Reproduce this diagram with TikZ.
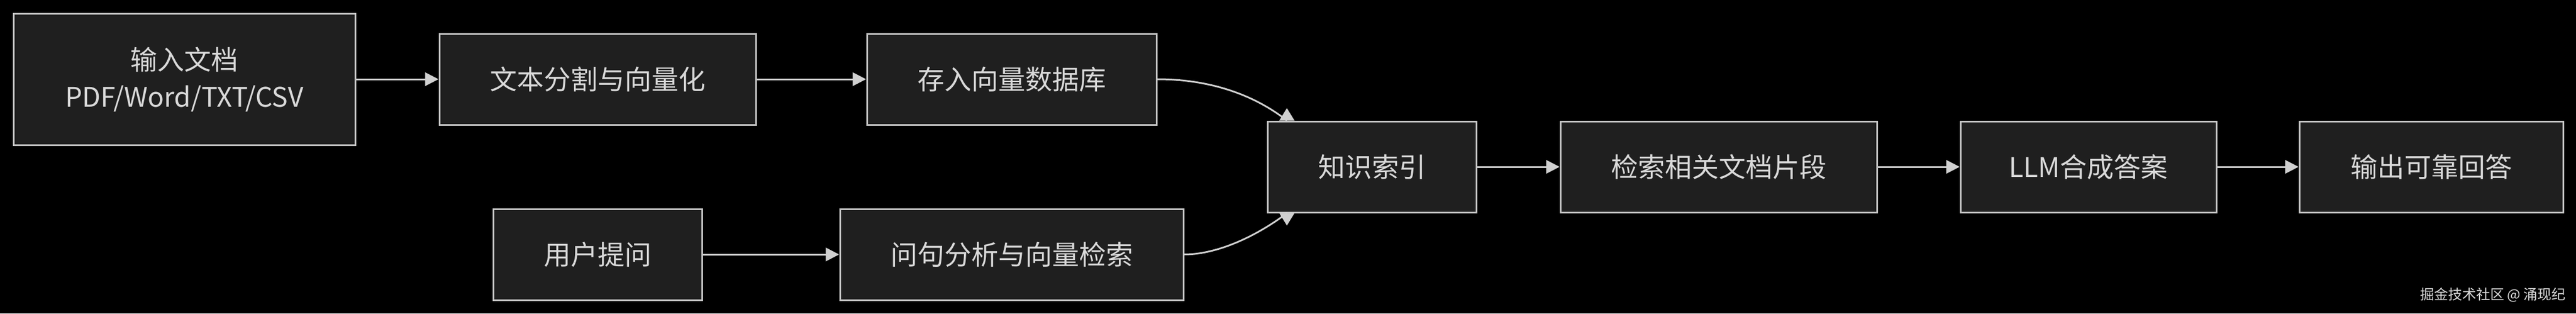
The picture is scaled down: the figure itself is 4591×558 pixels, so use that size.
\documentclass[tikz,border=0pt]{standalone}
\usepackage{fontspec}
\setmainfont{Noto Sans CJK SC}
\usetikzlibrary{arrows.meta,calc}
\definecolor{boxfill}{HTML}{1F1F1F}
\definecolor{boxline}{HTML}{C4C4C4}
\definecolor{txt}{HTML}{D9D9D9}
\definecolor{wire}{HTML}{D0D0D0}
\begin{document}
\begin{tikzpicture}[x=1pt,y=-1pt,
  box/.style={draw=boxline, fill=boxfill, line width=3pt, text=txt,
    font=\fontsize{48}{66}\selectfont, align=center, inner sep=0pt,
    minimum height=162pt},
  flow/.style={draw=wire, line width=3pt, -{Triangle[length=24pt,width=24pt]}},
  wirec/.style={draw=wire, line width=3pt},
  tipfill/.style={fill=wire}]
\fill[black] (0,0) rectangle (4591,558);
\useasboundingbox (0,0) rectangle (4591,558);

\node[box, minimum width=609pt, minimum height=234pt] (in) at (328.5,141) {输入文档\\PDF/Word/TXT/CSV};
\node[box, minimum width=564pt] (split) at (1065,141) {文本分割与向量化};
\node[box, minimum width=516pt] (store) at (1803,141) {存入向量数据库};
\node[box, minimum width=372pt] (user) at (1065,453) {用户提问};
\node[box, minimum width=612pt] (query) at (1803,453) {问句分析与向量检索};
\node[box, minimum width=372pt] (kidx) at (2445,297) {知识索引};
\node[box, minimum width=564pt] (ret) at (3063,297) {检索相关文档片段};
\node[box, minimum width=456pt] (llm) at (3722,297) {LLM合成答案};
\node[box, minimum width=470pt] (out) at (4333,297) {输出可靠回答};

\draw[flow] (in.east |- split.west) -- (split.west);
\draw[flow] (split.east) -- (store.west);
\draw[flow] (user.east) -- (query.west);
\draw[flow] (kidx.east) -- (ret.west);
\draw[flow] (ret.east) -- (llm.west);
\draw[flow] (llm.east) -- (out.west);

\coordinate (kt) at ($(kidx.north west)+(36,0)$);
\coordinate (kb) at ($(kidx.south west)+(36,0)$);
\draw[wirec] (store.east) .. controls (2150,141) and (2230,165) .. (kt);
\draw[wirec] (query.east) .. controls (2170,453) and (2240,420) .. (kb);
\fill[tipfill] ($(kt)+(-13.5,0)$) -- ($(kt)+(13.5,0)$) -- ($(kt)+(0,-22)$) -- cycle;
\fill[tipfill] ($(kb)+(-13.5,0)$) -- ($(kb)+(13.5,0)$) -- ($(kb)+(0,22)$) -- cycle;

\node[anchor=east, text=txt, font=\fontsize{25}{30}\selectfont, inner sep=0pt] (wm) at (4573,525) {掘金技术社区 @ 涌现纪};
\end{tikzpicture}
\end{document}
